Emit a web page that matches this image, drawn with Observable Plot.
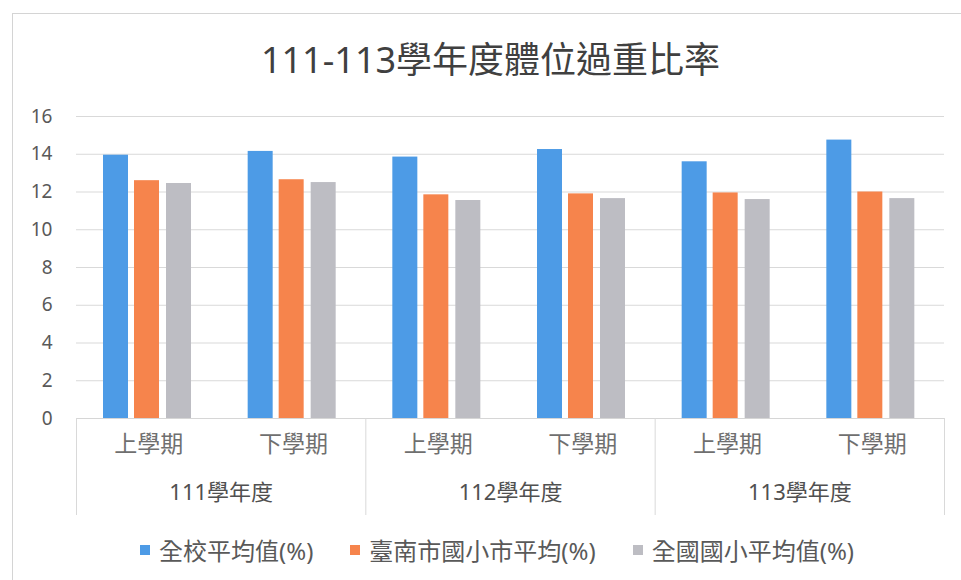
<!DOCTYPE html>
<html>
<head>
<meta charset="utf-8">
<script src="https://cdn.jsdelivr.net/npm/d3@7"></script>
<script src="https://cdn.jsdelivr.net/npm/@observablehq/plot@0.6"></script>
<style>
  body { margin: 0; background: #fff; }
  #wrap { position: relative; width: 961px; height: 580px; overflow: hidden; font-family: "Noto Sans", "Noto Sans CJK TC", sans-serif; }
  #border { position: absolute; left: 12px; top: 13px; width: 980px; height: 600px; border: 1px solid #d4d4d4; }
  #title { position: absolute; left: 20px; width: 941px; top: 30px; text-align: center; font-size: 36px; color: #404040; line-height: 60px; }
  #chart { position: absolute; left: 0; top: 100px; }
  #legend { position: absolute; left: 140px; top: 532px; display: flex; align-items: center; font-size: 24px; color: #595959; }
  .item { display: flex; align-items: center; margin-right: 37px; }
  .sw { width: 10px; height: 10px; margin-right: 9px; }
</style>
</head>
<body>
<div id="wrap">
  <div id="border"></div>
  <div id="title">111-113學年度體位過重比率</div>
  <div id="chart"></div>
  <div id="legend"></div>
</div>
<script>
const years = ["111學年度", "112學年度", "113學年度"];
const semesters = ["上學期", "下學期"];
const seriesNames = ["全校平均值(%)", "臺南市國小市平均(%)", "全國國小平均值(%)"];
const schoolAvg = [13.95, 14.15, 13.85, 14.25, 13.6, 14.75];
const tainanAvg = [12.6, 12.65, 11.85, 11.9, 11.95, 12.0];
const nationalAvg = [12.45, 12.5, 11.55, 11.65, 11.6, 11.65];
const yTicks = [0, 2, 4, 6, 8, 10, 12, 14, 16];
const colors = ["#4d9be6", "#f6844c", "#bdbdc3"];

const keys = years.flatMap(y => semesters.map(s => y + "|" + s));
const seriesValues = [schoolAvg, tainanAvg, nationalAvg];

const W = 961, H = 420, mL = 76, mR = 17, mT = 16, mB = 102;
const bw = (W - mL - mR) / keys.length;
const plotH = H - mT - mB;
const barSpans = [[27, 52], [58, 83], [90, 115]];

const barMarks = seriesValues.map((vals, si) => Plot.barY(
  keys.map((k, i) => ({key: k, value: vals[i], series: seriesNames[si]})),
  {x: "key", y: "value", fill: colors[si], insetLeft: barSpans[si][0], insetRight: bw - barSpans[si][1]}
));

const chart = Plot.plot({
  width: W, height: H,
  marginLeft: mL, marginRight: mR, marginTop: mT, marginBottom: mB,
  style: {fontFamily: '"Noto Sans", "Noto Sans CJK TC", sans-serif', color: "#595959", background: "transparent", overflow: "visible"},
  x: {type: "band", domain: keys, padding: 0, round: false, label: null},
  y: {domain: [0, 16], label: null},
  marks: [
    Plot.gridY(yTicks.filter(d => d > 0), {stroke: "#d9d9d9", strokeOpacity: 1}),
    Plot.ruleY([0], {stroke: "#d6d6d6"}),
    ...barMarks,
    Plot.axisY({ticks: yTicks, tickSize: 0, tickPadding: 24, fontSize: 19, label: null}),
    Plot.axisX({tickSize: 0, tickPadding: 17, fontSize: 23, label: null, tickFormat: k => k.split("|")[1], fill: "#6f6f6f"}),
    Plot.text(years, {x: y => y + "|上學期", dx: bw / 2, frameAnchor: "bottom", dy: 81, fontSize: 22, fill: "#505050"}),
    Plot.ruleX(years.map(y => y + "|上學期"), {dx: -bw / 2, insetTop: plotH, insetBottom: -97, stroke: "#d9d9d9"}),
    Plot.ruleX([keys[keys.length - 1]], {dx: bw / 2, insetTop: plotH, insetBottom: -97, stroke: "#d9d9d9"})
  ]
});
document.getElementById("chart").appendChild(chart);

const legend = document.getElementById("legend");
seriesNames.forEach((name, i) => {
  const item = document.createElement("div");
  item.className = "item";
  const sw = document.createElement("div");
  sw.className = "sw";
  sw.style.background = colors[i];
  const t = document.createElement("span");
  t.textContent = name;
  item.appendChild(sw);
  item.appendChild(t);
  legend.appendChild(item);
});
</script>
</body>
</html>
